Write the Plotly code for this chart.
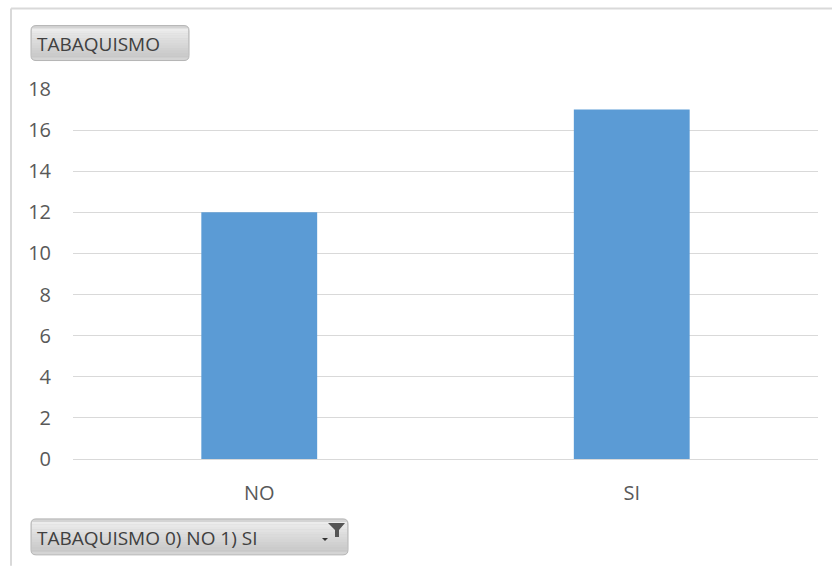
import plotly.graph_objects as go

# Smoking status counts
categories = ["NO", "SI"]
counts = [12, 17]
y_ticks = [0, 2, 4, 6, 8, 10, 12, 14, 16, 18]

W, H = 832, 566
L, R, T, B = 73, 14, 88.5, 107
PW, PH = W - L - R, H - T - B

def px(x):
    return (x - L) / PW

def py(y):
    return (H - B - y) / PH

def rounded_path(x0, y0, x1, y1, r):
    X0, X1 = px(x0), px(x1)
    Y0, Y1 = py(y0), py(y1)
    rx, ry = r / PW, r / PH
    return (f"M {X0 + rx},{Y0} L {X1 - rx},{Y0} Q {X1},{Y0} {X1},{Y0 - ry} "
            f"L {X1},{Y1 + ry} Q {X1},{Y1} {X1 - rx},{Y1} L {X0 + rx},{Y1} "
            f"Q {X0},{Y1} {X0},{Y1 + ry} L {X0},{Y0 - ry} Q {X0},{Y0} {X0 + rx},{Y0} Z")

shapes = []

def field_button(x0, y0, x1, y1):
    # base fill
    shapes.append(dict(type="path", xref="paper", yref="paper",
                       path=rounded_path(x0, y0, x1, y1, 5),
                       fillcolor="#d4d4d4", line=dict(width=0), layer="above"))
    # vertical gradient bands, light at top to darker at bottom
    n = 12
    top, bot = (236, 236, 236), (200, 200, 200)
    for i in range(n):
        t = i / (n - 1)
        c = tuple(int(top[k] + (bot[k] - top[k]) * t) for k in range(3))
        ya = y0 + 3 + (y1 - y0 - 6) * i / n
        yb = y0 + 3 + (y1 - y0 - 6) * (i + 1) / n
        shapes.append(dict(type="rect", xref="paper", yref="paper",
                           x0=px(x0 + 1), x1=px(x1 - 1), y0=py(ya), y1=py(yb),
                           fillcolor=f"rgb{c}", line=dict(width=0), layer="above"))
    shapes.append(dict(type="path", xref="paper", yref="paper",
                       path=rounded_path(x0, y0, x1, y1, 5),
                       fillcolor="rgba(0,0,0,0)", line=dict(color="#b4b4b4", width=1),
                       layer="above"))

field_button(31, 25, 189, 60)
field_button(31, 519, 348, 555)

# funnel icon on the filter button
fx = [px(v) for v in (328, 345, 339, 339, 335, 335, 328)]
fy = [py(v) for v in (523, 523, 530, 537, 537, 530, 523)]
funnel = "M " + " L ".join(f"{a},{b}" for a, b in zip(fx, fy)) + " Z"
shapes.append(dict(type="path", xref="paper", yref="paper", path=funnel,
                   fillcolor="#555555", line=dict(width=0), layer="above"))
# small dropdown arrow
ax = [px(v) for v in (322, 328, 325)]
ay = [py(v) for v in (538, 538, 541)]
arrow = "M " + " L ".join(f"{a},{b}" for a, b in zip(ax, ay)) + " Z"
shapes.append(dict(type="path", xref="paper", yref="paper", path=arrow,
                   fillcolor="#333333", line=dict(width=0), layer="above"))

# outer chart frame (top and left edges)
shapes.append(dict(type="line", xref="paper", yref="paper",
                   x0=px(11), x1=px(832), y0=py(8), y1=py(8),
                   line=dict(color="#d9d9d9", width=2)))
shapes.append(dict(type="line", xref="paper", yref="paper",
                   x0=px(11), x1=px(11), y0=py(8), y1=py(566),
                   line=dict(color="#d9d9d9", width=2)))

btn_font = dict(family="Open Sans", size=19, color="#404040")
annotations = [
    dict(text="TABAQUISMO", xref="paper", yref="paper", x=px(35), y=py(43),
         xanchor="left", yanchor="middle", showarrow=False, font=btn_font),
    dict(text="TABAQUISMO 0) NO 1) SI", xref="paper", yref="paper", x=px(35), y=py(538),
         xanchor="left", yanchor="middle", showarrow=False, font=btn_font),
]

fig = go.Figure(go.Bar(x=categories, y=counts, marker=dict(color="#5B9BD5", line=dict(width=0)),
                       width=0.311, hoverinfo="x+y"))

fig.update_layout(
    width=W, height=H,
    margin=dict(l=L, r=R, t=T, b=B, pad=0),
    paper_bgcolor="white", plot_bgcolor="white",
    showlegend=False,
    shapes=shapes, annotations=annotations,
    font=dict(family="Open Sans", size=20, color="#595959"),
    xaxis=dict(showgrid=False, showline=False, zeroline=False,
               ticks="outside", ticklen=16, tickcolor="rgba(0,0,0,0)",
               tickfont=dict(size=20, color="#595959")),
    yaxis=dict(range=[0, 18], tickvals=y_ticks, showgrid=True, gridcolor="#d9d9d9",
               gridwidth=1, zeroline=True, zerolinecolor="#d9d9d9", zerolinewidth=1,
               showline=False, ticks="outside", ticklen=17, tickcolor="rgba(0,0,0,0)",
               tickfont=dict(size=20, color="#595959")),
)

fig.write_html("out.html")
